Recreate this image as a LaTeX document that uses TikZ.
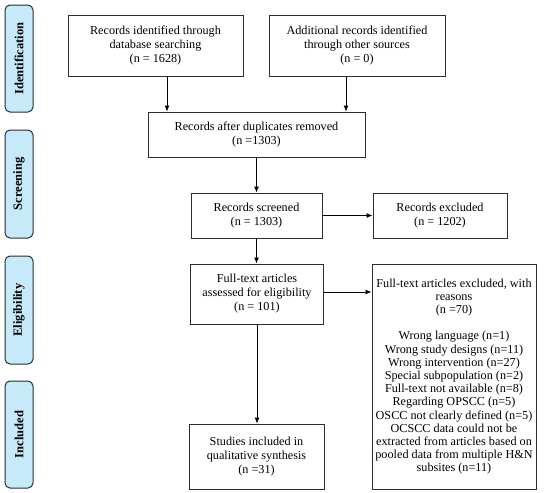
\documentclass[tikz,border=0pt]{standalone}
\usepackage{fontspec}
\setmainfont{Liberation Serif}
\usetikzlibrary{arrows.meta}
\definecolor{phase}{RGB}{198,234,250}
\definecolor{edge}{RGB}{45,45,45}
\tikzset{
  box/.style={draw=edge, line width=0.9pt, align=center, inner sep=2pt, font=\fontsize{12.2}{14}\selectfont},
  phasebox/.style={draw=edge, line width=1pt, fill=phase, rounded corners=5pt, minimum width=28pt, font=\bfseries\fontsize{12.5}{13}\selectfont},
  arr/.style={-{Latex[length=6pt,width=5pt]}, line width=0.9pt, draw=black}
}
\begin{document}
\begin{tikzpicture}[x=1pt,y=-1pt]
\useasboundingbox[fill=white] (0,0) rectangle (550,493);
% phase labels
\node[phasebox, minimum height=107pt] (pi) at (19,58.5) {\rotatebox{90}{Identification}};
\node[phasebox, minimum height=108pt] (ps) at (19,184) {\rotatebox{90}{Screening}};
\node[phasebox, minimum height=108pt] (pe) at (19,310) {\rotatebox{90}{Eligibility}};
\node[phasebox, minimum height=107pt] (pin) at (19,434.5) {\rotatebox{90}{Included}};
% boxes
\node[box, minimum width=175pt, minimum height=61pt] (b1) at (155.5,45.5) {Records identified through\\database searching\\(n = 1628)};
\node[box, minimum width=176pt, minimum height=61pt] (b2) at (357,45.5) {Additional records identified\\through other sources\\(n = 0)};
\node[box, minimum width=217pt, minimum height=45pt] (dup) at (256.5,134.5) {Records after duplicates removed\\(n =1303)};
\node[box, minimum width=131pt, minimum height=45pt] (scr) at (256.5,215.5) {Records screened\\(n = 1303)};
\node[box, minimum width=134pt, minimum height=45pt] (exc) at (440,215.5) {Records excluded\\(n = 1202)};
\node[box, minimum width=133pt, minimum height=60pt] (ft) at (257,294) {Full-text articles\\assessed for eligibility\\(n = 101)};
\node[box, minimum width=164pt, minimum height=225pt, font=\fontsize{12.2}{13.2}\selectfont] (ftx) at (454,376.5) {Full-text articles excluded, with\\reasons\\(n =70)\\[13.2pt]Wrong language (n=1)\\Wrong study designs (n=11)\\Wrong intervention (n=27)\\Special subpopulation (n=2)\\Full-text not available (n=8)\\Regarding OPSCC (n=5)\\OSCC not clearly defined (n=5)\\OCSCC data could not be\\extracted from articles based on\\pooled data from multiple H\&N\\subsites (n=11)};
\node[box, minimum width=135pt, minimum height=65pt] (inc) at (256.5,456.5) {Studies included in\\qualitative synthesis\\(n =31)};
% connectors
\coordinate (c1) at (167,0);
\coordinate (c2) at (346,0);
\draw[arr] (c1 |- b1.south) -- (c1 |- dup.north);
\draw[arr] (c2 |- b2.south) -- (c2 |- dup.north);
\draw[arr] (dup.south) -- (dup.south |- scr.north);
\draw[arr] (scr.east) -- (scr.east -| exc.west);
\draw[arr] (scr.south) -- (scr.south |- ft.north);
\coordinate (c3) at (0,292);
\draw[arr] (ft.east |- c3) -- (ftx.west |- c3);
\draw[arr] (ft.south) -- (ft.south |- inc.north);
\end{tikzpicture}
\end{document}
